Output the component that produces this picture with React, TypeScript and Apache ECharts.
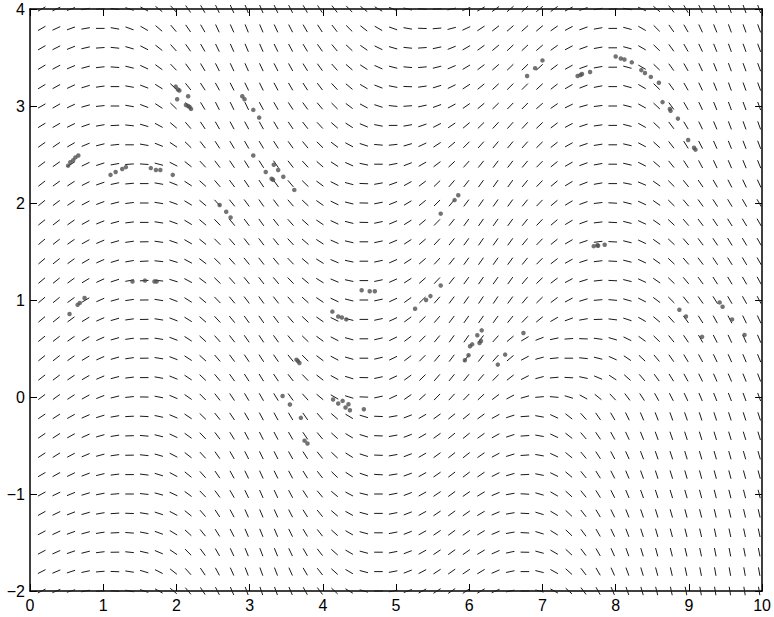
import React, { useEffect, useRef } from "react";
import * as echarts from "echarts";

// Column centres (x) and row centres (y) of the direction-field segments
const xCols = [0.16, 0.36, 0.56, 0.76, 0.96, 1.16, 1.36, 1.56, 1.76, 1.96, 2.16, 2.36, 2.56, 2.76, 2.96, 3.16, 3.36, 3.56, 3.76, 3.96, 4.16, 4.36, 4.56, 4.76, 4.96, 5.16, 5.36, 5.56, 5.76, 5.96, 6.16, 6.36, 6.56, 6.76, 6.96, 7.16, 7.36, 7.56, 7.76, 7.96, 8.16, 8.36, 8.56, 8.76, 8.96, 9.16, 9.36, 9.56, 9.76, 9.96];
const yRows = [4.0, 3.8, 3.6, 3.4, 3.2, 3.0, 2.8, 2.6, 2.4, 2.2, 2.0, 1.8, 1.6, 1.4, 1.2, 1.0, 0.8, 0.6, 0.4, 0.2, 0.0, -0.2, -0.4, -0.6, -0.8, -1.0, -1.2, -1.4, -1.6, -1.8, -2.0];

// Segment direction (degrees, as drawn on screen) for each row
const segmentAngles = [
  [30,26,20,10,2,-8,-18,-28,-38,-48, -55,-60,-64,-66,-68,-67,-65,-63,-60,-57, -52,-46,-38,-30,-22,-14,-5,3,12,22, 30,36,40,42,40,36,28,20,10,2, -10,-25,-40,-52,-60,-65,-68,-70,-70,-70],
  [30,25,20,10,0,-10,-20,-30,-40,-50, -55,-60,-65,-66,-68,-67,-65,-63,-60,-57, -52,-45,-38,-30,-20,-10,-2,5,15,25, 33,38,41,42,40,35,28,20,10,0, -15,-30,-45,-55,-60,-65,-68,-70,-70,-70],
  [30,27,22,13,4,-6,-16,-27,-38,-48, -55,-60,-64,-66,-67,-66,-64,-62,-59,-55, -50,-43,-35,-26,-16,-6,4,12,22,30, 36,40,43,43,41,36,28,20,10,0, -15,-30,-44,-54,-60,-65,-68,-70,-70,-70],
  [31,28,23,15,6,-4,-14,-25,-36,-46, -54,-59,-63,-65,-66,-65,-63,-61,-58,-54, -48,-41,-33,-24,-14,-5,5,14,23,31, 37,41,44,44,42,37,29,20,10,0, -15,-30,-44,-54,-60,-65,-68,-70,-70,-70],
  [31,29,25,17,8,0,-10,-21,-32,-43, -51,-57,-61,-63,-64,-64,-62,-60,-57,-53, -47,-40,-31,-21,-11,-2,8,17,26,33, 39,43,45,45,43,38,30,21,11,0, -15,-30,-44,-54,-60,-65,-68,-70,-70,-70],
  [30,30,25,16,6,0,-10,-21,-33,-44, -53,-59,-63,-64,-64,-62,-60,-57,-54,-50, -45,-37,-28,-18,-6,4,12,20,28,35, 40,44,46,45,41,35,26,16,7,0, -14,-29,-43,-54,-60,-65,-68,-70,-70,-70],
  [31,30,26,19,10,3,-6,-16,-28,-40, -49,-56,-60,-62,-62,-61,-59,-56,-52,-47, -41,-33,-23,-11,0,10,19,27,34,40, 44,47,48,47,43,37,28,18,8,0, -14,-29,-43,-53,-59,-64,-67,-69,-70,-70],
  [35,34,30,23,14,6,0,-10,-22,-34, -44,-52,-57,-59,-60,-59,-57,-54,-50,-44, -37,-28,-18,-5,6,16,25,33,40,45, 48,50,50,48,44,38,29,19,9,0, -13,-28,-42,-52,-58,-63,-66,-68,-69,-69],
  [37,35,32,26,18,10,4,-4,-15,-27, -38,-47,-53,-56,-58,-57,-55,-52,-47,-41, -33,-24,-12,0,11,21,30,37,43,48, 51,53,52,50,45,39,30,20,10,0, -13,-27,-41,-51,-57,-62,-65,-67,-68,-68],
  [38,36,33,27,19,12,5,0,-10,-22, -33,-42,-49,-53,-56,-56,-54,-50,-44,-36, -27,-15,-2,10,20,29,37,44,49,52, 54,55,54,51,46,40,31,21,10,0, -11,-23,-35,-45,-51,-56,-60,-63,-65,-65],
  [39,37,34,28,21,14,7,0,-9,-20, -31,-40,-47,-51,-54,-55,-53,-49,-43,-35, -26,-14,-1,11,22,31,39,45,50,53, 55,55,54,51,46,40,31,20,7,-3, -14,-25,-35,-44,-50,-54,-57,-59,-60,-60],
  [39,38,35,29,22,15,7,0,-9,-20, -31,-40,-46,-50,-53,-54,-52,-48,-42,-34, -25,-14,-1,12,23,32,40,46,51,54, 55,55,54,51,46,40,31,20,7,-3, -14,-25,-35,-43,-49,-53,-56,-58,-59,-60],
  [40,38,35,29,23,16,8,1,-8,-19, -30,-39,-45,-49,-52,-53,-51,-47,-41,-33, -24,-13,0,12,23,33,41,47,51,54, 55,55,54,51,46,39,30,19,7,-3, -14,-25,-35,-43,-49,-53,-56,-58,-59,-60],
  [40,39,36,30,24,17,10,3,-6,-17, -28,-37,-44,-48,-51,-52,-50,-46,-40,-32, -23,-12,0,12,24,33,41,47,51,54, 55,55,54,51,45,38,29,18,7,-3, -14,-25,-35,-43,-49,-53,-56,-58,-59,-60],
  [40,39,36,31,25,18,10,3,-6,-17, -28,-37,-44,-48,-51,-52,-50,-46,-40,-32, -23,-12,0,12,24,33,41,47,51,54, 55,55,54,50,44,37,28,17,6,-3, -14,-25,-35,-44,-50,-54,-57,-59,-60,-61],
  [40,39,36,31,24,16,8,1,-9,-21, -32,-40,-46,-50,-53,-54,-52,-48,-42,-34, -25,-14,0,12,25,36,44,49,53,55, 56,56,54,50,44,37,28,17,5,-5, -16,-27,-37,-45,-51,-55,-58,-60,-61,-62],
  [40,39,36,31,24,16,8,1,-9,-21, -32,-41,-47,-51,-54,-55,-53,-49,-43,-35, -26,-14,0,12,25,36,44,49,53,55, 55,54,51,46,39,30,20,10,2,-7, -18,-30,-40,-48,-54,-58,-61,-63,-64,-65],
  [39,38,35,31,24,16,8,1,-9,-21, -33,-42,-48,-52,-55,-56,-54,-50,-44,-36, -27,-15,0,13,26,37,45,50,54,55, 53,48,40,31,21,12,4,-2,-8,-16, -26,-36,-44,-51,-56,-60,-63,-65,-66,-67],
  [39,38,35,31,24,16,8,1,-9,-21, -33,-42,-49,-53,-56,-57,-55,-51,-45,-37, -28,-16,0,13,26,37,45,50,53,53, 52,48,40,28,15,6,0,-6,-14,-24, -34,-43,-50,-55,-59,-62,-64,-66,-67,-68],
  [38,37,34,30,23,15,7,0,-10,-22, -34,-43,-50,-54,-57,-58,-56,-52,-46,-38, -29,-17,-1,12,25,36,44,49,51,51, 49,45,38,27,15,5,-3,-12,-23,-33, -42,-49,-54,-58,-61,-64,-66,-67,-68,-69],
  [37,36,33,29,22,14,6,-1,-11,-23, -35,-45,-52,-56,-59,-60,-58,-54,-48,-40, -30,-17,-2,12,25,35,42,46,47,46, 43,37,28,16,5,-5,-17,-29,-39,-47, -53,-57,-61,-63,-65,-67,-68,-69,-70,-70],
  [34,33,29,24,17,10,3,-3,-12,-23, -34,-44,-51,-56,-60,-62,-61,-59,-55,-49, -41,-31,-17,-2,10,21,30,36,39,39, 36,29,18,4,-10,-25,-38,-48,-55,-60, -64,-67,-69,-70,-71,-72,-72,-72,-72,-72],
  [34,33,29,24,16,9,2,-5,-14,-25, -36,-46,-53,-58,-62,-63,-62,-60,-56,-50, -42,-31,-17,-2,10,21,30,36,39,39, 36,29,18,4,-10,-25,-38,-49,-56,-61, -65,-68,-70,-71,-72,-73,-73,-73,-73,-73],
  [33,32,28,23,15,8,1,-6,-16,-27, -38,-47,-55,-60,-63,-64,-63,-61,-57,-51, -43,-32,-18,-2,10,21,30,36,38,38, 35,28,17,4,-10,-25,-39,-50,-57,-62, -66,-69,-71,-72,-73,-74,-74,-74,-74,-74],
  [30,29,26,21,14,7,0,-7,-17,-28, -39,-48,-56,-61,-64,-65,-64,-62,-58,-52, -44,-33,-19,-3,9,20,29,35,37,37, 34,27,16,3,-11,-26,-40,-51,-58,-63, -67,-70,-72,-73,-74,-75,-75,-75,-75,-75],
  [29,26,22,17,11,5,0,-6,-15,-25, -36,-46,-54,-60,-64,-66,-65,-62,-57,-50, -40,-28,-14,0,11,21,29,34,36,35, 31,23,10,-3,-16,-30,-42,-51,-58,-63, -67,-70,-72,-73,-74,-75,-76,-76,-76,-76],
  [29,26,21,16,10,4,-2,-9,-18,-28, -39,-49,-57,-62,-66,-67,-66,-63,-58,-51, -41,-29,-15,0,11,21,29,34,36,35, 31,23,10,-3,-17,-31,-43,-52,-59,-64, -68,-71,-73,-74,-75,-76,-77,-77,-77,-77],
  [28,25,20,15,9,3,-4,-11,-20,-31, -42,-51,-58,-63,-67,-68,-67,-64,-59,-52, -42,-30,-15,0,11,21,29,34,36,35, 31,23,10,-3,-17,-32,-44,-53,-60,-65, -69,-72,-74,-75,-76,-77,-78,-78,-78,-78],
  [28,24,19,14,7,1,-6,-13,-23,-34, -45,-54,-60,-65,-68,-69,-68,-65,-60,-52, -42,-30,-15,0,11,21,29,34,36,35, 31,24,12,-1,-15,-30,-43,-53,-60,-66, -70,-73,-75,-76,-77,-78,-79,-79,-79,-79],
  [27,23,18,12,5,-2,-9,-17,-27,-38, -48,-56,-62,-66,-69,-70,-69,-66,-60,-52, -42,-30,-15,0,11,21,28,33,35,34, 31,24,12,0,-14,-29,-42,-52,-60,-66, -70,-73,-75,-77,-78,-79,-80,-80,-80,-80],
  [27,23,17,11,3,-4,-11,-19,-29,-40, -50,-57,-63,-67,-70,-71,-70,-67,-61,-53, -43,-31,-16,0,11,21,28,33,35,34, 31,24,12,0,-14,-29,-42,-53,-61,-67, -71,-74,-76,-78,-79,-80,-81,-81,-81,-81],
];

// Observed data points
const dotX = [
  0.52, 0.55, 0.59, 0.62, 0.66,
  1.10, 1.17, 1.26, 1.31,
  1.65, 1.72, 1.78, 1.95,
  1.99, 2.02, 2.04, 2.01, 2.16, 2.13, 2.16, 2.18, 2.20,
  2.90, 2.93, 3.05, 3.13,
  3.05, 3.33, 3.39, 3.22, 3.30, 3.32, 3.46, 3.61,
  5.80, 5.85, 5.61,
  6.79, 6.90, 7.00,
  7.48, 7.52, 7.54, 7.65,
  8.00, 8.07, 8.12, 8.22, 8.35, 8.40, 8.48, 8.59,
  8.64, 8.74, 8.75, 8.85, 8.99, 9.07, 9.09,
  2.59, 2.68, 2.74,
  1.40, 1.57, 1.70, 1.73,
  0.54, 0.65, 0.68, 0.745,
  5.61,
  4.53, 4.64, 4.71,
  5.26, 5.41, 5.47,
  4.13, 4.21, 4.26, 4.32,
  6.17, 6.11, 6.16, 6.14, 6.04, 6.01, 5.99, 5.94,
  6.49, 6.39,
  3.64, 3.66, 3.68,
  3.45, 3.55, 3.70, 3.75, 3.79,
  4.14, 4.21, 4.27, 4.35, 4.31, 4.37, 4.56,
  7.70, 7.75, 7.76, 7.85,
  6.74,
  8.87, 8.96, 9.18,
  9.42, 9.46, 9.59, 9.76,
];
const dotY = [
  2.385, 2.42, 2.44, 2.47, 2.49,
  2.29, 2.32, 2.35, 2.37,
  2.36, 2.34, 2.34, 2.29,
  3.20, 3.17, 3.16, 3.07, 3.10, 3.01, 3.00, 2.99, 2.97,
  3.10, 3.07, 2.96, 2.88,
  2.49, 2.395, 2.34, 2.32, 2.25, 2.24, 2.27, 2.135,
  2.03, 2.08, 1.89,
  3.31, 3.39, 3.47,
  3.31, 3.32, 3.33, 3.35,
  3.51, 3.49, 3.48, 3.45, 3.37, 3.34, 3.30, 3.24,
  3.04, 2.97, 2.95, 2.87, 2.65, 2.57, 2.55,
  1.98, 1.91, 1.85,
  1.19, 1.20, 1.19, 1.19,
  0.855, 0.95, 0.97, 1.02,
  1.15,
  1.10, 1.09, 1.09,
  0.91, 1.00, 1.04,
  0.88, 0.83, 0.82, 0.80,
  0.687, 0.636, 0.577, 0.557, 0.543, 0.523, 0.43, 0.379,
  0.437, 0.334,
  0.385, 0.37, 0.35,
  0.011, -0.077, -0.215, -0.45, -0.48,
  -0.026, -0.067, -0.04, -0.074, -0.108, -0.136, -0.126,
  1.555, 1.565, 1.56, 1.57,
  0.66,
  0.90, 0.83, 0.62,
  0.975, 0.93, 0.80, 0.64,
];

const xTicks = [0, 10, 1];
const yTicks = [-2, 4, 1];

const FONT = "Liberation Sans, Arial, Helvetica, sans-serif";

export default function App() {
  const ref = useRef<HTMLDivElement>(null);
  useEffect(() => {
    if (!ref.current) return;
    const chart = echarts.init(ref.current, undefined, { renderer: "svg" });

    const segData: number[][] = [];
    yRows.forEach((y, r) => {
      const row = segmentAngles[r] || [];
      xCols.forEach((x, c) => {
        if (row[c] !== undefined) segData.push([x, y, row[c]]);
      });
    });
    const dots = dotX.map((x, i) => [x, dotY[i]]);

    const fmt = (v: number) => (v < 0 ? "\u2212" + Math.abs(v) : String(v));
    const axisCommon = {
      type: "value" as const,
      axisLine: { show: true, onZero: false, lineStyle: { color: "#000", width: 1.5 } },
      axisTick: { show: true, inside: true, length: 7, lineStyle: { color: "#000", width: 1 } },
      splitLine: { show: false },
    };

    chart.setOption({
      animation: false,
      backgroundColor: "#fff",
      grid: { left: 30, right: 6, top: 9, bottom: 26, containLabel: false },
      xAxis: [
        {
          ...axisCommon,
          position: "bottom",
          min: xTicks[0],
          max: xTicks[1],
          interval: xTicks[2],
          axisLabel: { color: "#000", fontSize: 16, fontFamily: FONT, margin: 6, formatter: fmt },
        },
        {
          ...axisCommon,
          position: "top",
          min: xTicks[0],
          max: xTicks[1],
          interval: xTicks[2],
          axisLabel: { show: false },
        },
      ],
      yAxis: [
        {
          ...axisCommon,
          position: "left",
          min: yTicks[0],
          max: yTicks[1],
          interval: yTicks[2],
          axisLabel: { color: "#000", fontSize: 16, fontFamily: FONT, margin: 5, formatter: fmt },
        },
        {
          ...axisCommon,
          position: "right",
          min: yTicks[0],
          max: yTicks[1],
          interval: yTicks[2],
          axisLabel: { show: false },
        },
      ],
      series: [
        {
          type: "custom",
          xAxisIndex: 0,
          yAxisIndex: 0,
          clip: false,
          encode: { x: 0, y: 1 },
          data: segData,
          renderItem: (_params: any, api: any) => {
            const p = api.coord([api.value(0), api.value(1)]);
            const a = (api.value(2) * Math.PI) / 180;
            const h = 4.3;
            const dx = h * Math.cos(a);
            const dy = h * Math.sin(a);
            return {
              type: "line",
              shape: { x1: p[0] - dx, y1: p[1] + dy, x2: p[0] + dx, y2: p[1] - dy },
              style: { stroke: "#1a1a1a", lineWidth: 1 },
            };
          },
          silent: true,
        },
        {
          type: "scatter",
          xAxisIndex: 0,
          yAxisIndex: 0,
          data: dots,
          symbol: "circle",
          symbolSize: 4.5,
          itemStyle: { color: "#505050" },
          silent: true,
          z: 5,
        },
      ],
    });
    return () => chart.dispose();
  }, []);
  return (
    <div
      ref={ref}
      style={{ position: "fixed", left: 0, top: 0, width: 774, height: 617, background: "#fff" }}
    />
  );
}
